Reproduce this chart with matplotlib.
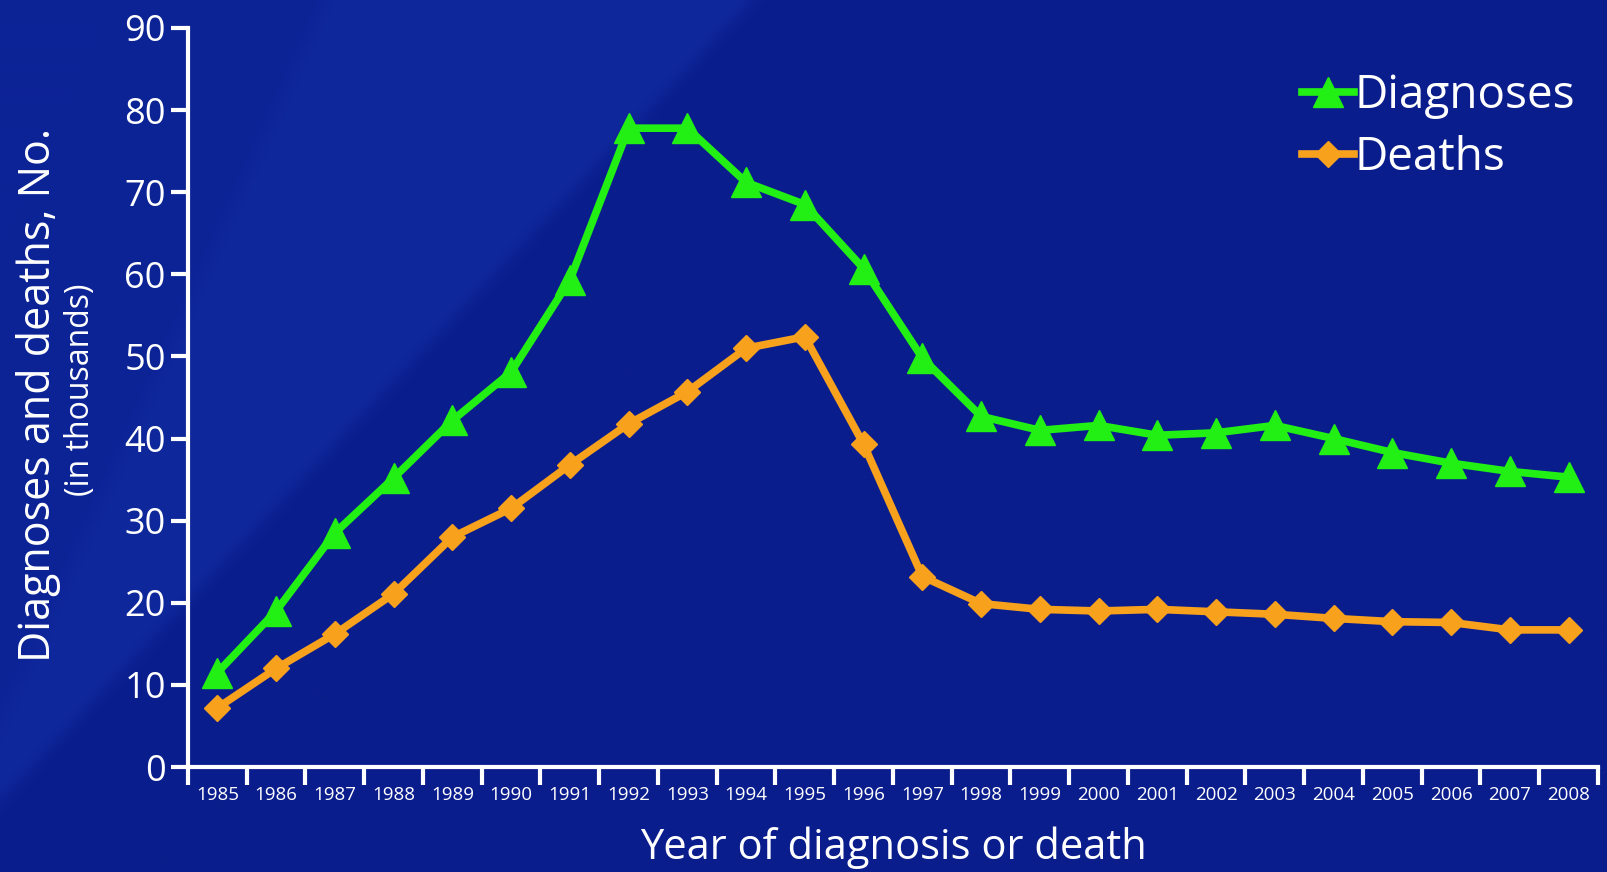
import numpy as np
import matplotlib
matplotlib.use("Agg")
import matplotlib.pyplot as plt
from matplotlib.colors import to_rgb

years = [str(y) for y in range(1985, 2009)]
diagnoses = [11.5, 19.0, 28.5, 35.2, 42.2, 48.1, 59.3, 77.8, 77.8, 71.2, 68.5, 60.7,
             49.8, 42.7, 41.0, 41.6, 40.4, 40.7, 41.6, 40.0, 38.3, 37.0, 36.0, 35.3]
deaths = [7.2, 12.0, 16.2, 21.1, 28.0, 31.5, 36.8, 41.8, 45.7, 51.0, 52.4, 39.3,
          23.2, 19.9, 19.2, 19.0, 19.2, 18.9, 18.6, 18.1, 17.7, 17.6, 16.7, 16.7]
yticks = list(range(0, 91, 10))

plt.rcParams['font.family'] = ['Open Sans', 'DejaVu Sans']

W, H = 1608, 872
fig = plt.figure(figsize=(W / 100, H / 100), dpi=100)

# background
bg_ax = fig.add_axes([0, 0, 1, 1], zorder=-10)
h, w = 218, 402
yy, xx = np.mgrid[0:h, 0:w] * 4.0
base = np.array(to_rgb('#0a1d8c'))
light = np.array(to_rgb('#0f289c'))
mid = np.array(to_rgb('#0c2396'))
img = np.tile(base, (h, w, 1))
l2 = xx + 0.94 * yy - 750
l1 = xx + 0.45 * yy - 325
t2 = 1 / (1 + np.exp(l2 / 6.0))
t1 = 1 / (1 + np.exp(l1 / 6.0))
for c in range(3):
    img[..., c] = base[c] * (1 - t2) + light[c] * t2
    img[..., c] = img[..., c] * (1 - t1) + mid[c] * t1
bg_ax.imshow(img, aspect='auto', interpolation='bilinear', extent=[0, 1, 0, 1])
bg_ax.axis('off')

ax = fig.add_axes([188 / W, 1 - 767 / H, (1598 - 188) / W, (767 - 28) / H])
ax.patch.set_alpha(0)

x = np.arange(len(years))
ax.plot(x, diagnoses, color='#22f014', lw=5.5, marker='^', markersize=22,
        label='Diagnoses', solid_joinstyle='round', clip_on=False)
ax.plot(x, deaths, color='#f7a11c', lw=5.5, marker='D', markersize=13,
        label='Deaths', solid_joinstyle='round', clip_on=False)

ax.set_xlim(-0.5, len(years) - 0.5)
ax.set_ylim(0, 90)
ax.set_yticks(yticks)
ax.set_yticklabels([str(v) for v in yticks], fontsize=26, color='white')

ax.set_xticks(np.arange(len(years) + 1) - 0.5)
ax.set_xticklabels([])
ax.set_xticks(x, minor=True)
ax.set_xticklabels(years, minor=True, fontsize=13.5, color='white')
ax.tick_params(axis='x', which='major', direction='out', length=13, width=3, color='white')
ax.tick_params(axis='x', which='minor', length=0, pad=14)
ax.tick_params(axis='y', direction='out', length=12, width=3, color='white', pad=4)

for s in ['top', 'right']:
    ax.spines[s].set_visible(False)
for s in ['left', 'bottom']:
    ax.spines[s].set_color('white')
    ax.spines[s].set_linewidth(3)

ax.set_xlabel('Year of diagnosis or death', fontsize=30, color='white', labelpad=16)

fig.text(0.024, 1 - 395 / H, 'Diagnoses and deaths, No.',
         rotation=90, fontsize=31, color='white', ha='center', va='center')
fig.text(0.05, 1 - 390 / H, '(in thousands)', rotation=90, fontsize=23,
         color='white', ha='center', va='center')

leg = ax.legend(loc='upper right', bbox_to_anchor=(1.0, 0.97), frameon=False,
                fontsize=33, handlelength=1.15, handletextpad=0.0, labelspacing=0.35,
                borderpad=0)
for t in leg.get_texts():
    t.set_color('white')

fig.savefig('out.png', dpi=100)
